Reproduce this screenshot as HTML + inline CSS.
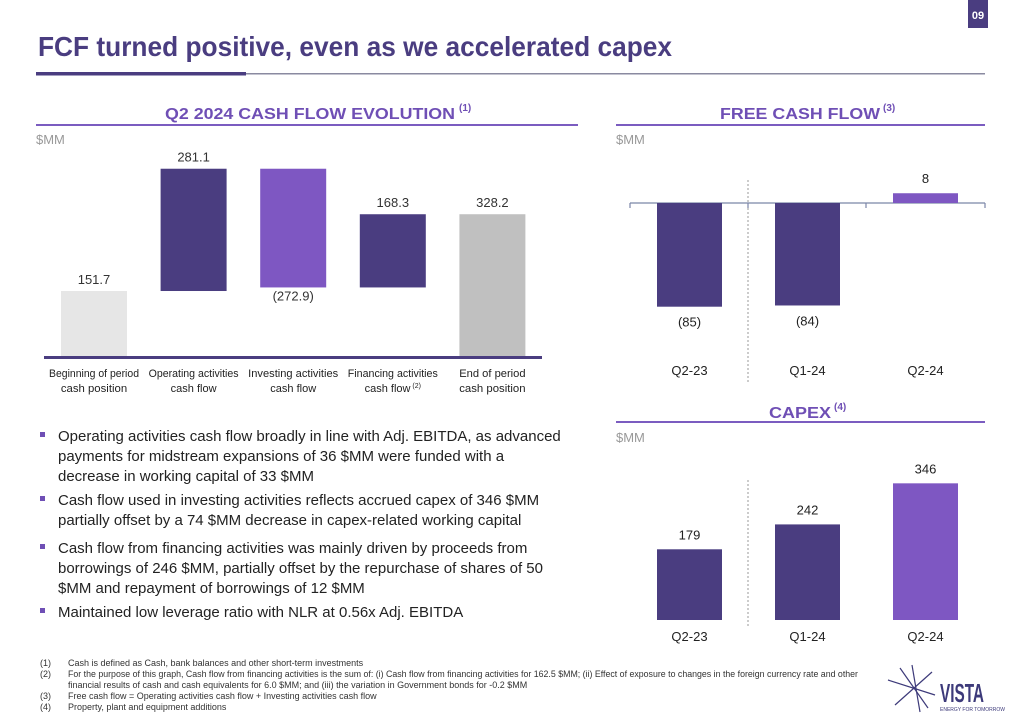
<!DOCTYPE html>
<html><head><meta charset="utf-8"><style>
html,body{margin:0;padding:0;background:#fff;}
svg{display:block;font-family:"Liberation Sans",sans-serif;}
</style></head><body>
<svg id="s" width="1020" height="716" viewBox="0 0 1020 716" xmlns="http://www.w3.org/2000/svg">
<rect x="968" y="0" width="20" height="28" fill="#4a3d80"/>
<text x="978" y="19" font-size="11" font-weight="bold" fill="#fff" text-anchor="middle">09</text>
<text x="38" y="56" font-size="28" font-weight="bold" fill="#4a3d80" textLength="634" lengthAdjust="spacingAndGlyphs">FCF turned positive, even as we accelerated capex</text>
<rect x="246" y="73" width="739" height="1.5" fill="#8a8aa0"/>
<rect x="36" y="72" width="210" height="3.5" fill="#4a3d80"/>

<text x="310" y="119" font-size="16" font-weight="bold" fill="#6f4fb5" text-anchor="middle" textLength="290" lengthAdjust="spacingAndGlyphs">Q2 2024 CASH FLOW EVOLUTION</text>
<text x="459" y="111" font-size="10" font-weight="bold" fill="#6f4fb5">(1)</text>
<rect x="36" y="124" width="542" height="2" fill="#7b5cc0"/>
<text x="36" y="144" font-size="13" fill="#999">$MM</text>

<text x="800" y="119" font-size="16" font-weight="bold" fill="#6f4fb5" text-anchor="middle" textLength="160" lengthAdjust="spacingAndGlyphs">FREE CASH FLOW</text>
<text x="883" y="111" font-size="10" font-weight="bold" fill="#6f4fb5">(3)</text>
<rect x="616" y="124" width="369" height="2" fill="#7b5cc0"/>
<text x="616" y="144" font-size="13" fill="#999">$MM</text>

<text x="800" y="418" font-size="16" font-weight="bold" fill="#6f4fb5" text-anchor="middle" textLength="62" lengthAdjust="spacingAndGlyphs">CAPEX</text>
<text x="834" y="410" font-size="10" font-weight="bold" fill="#6f4fb5">(4)</text>
<rect x="616" y="421" width="369" height="2" fill="#7b5cc0"/>
<text x="616" y="442" font-size="13" fill="#999">$MM</text>

<g id="wf"></g>
<g id="fcf"></g>
<g id="cap"></g>

<g font-size="15" fill="#222">
<rect x="40" y="432" width="5" height="5" fill="#6f4fb5"/>
<text x="58" y="441"><tspan x="58">Operating activities cash flow broadly in line with Adj. EBITDA, as advanced</tspan><tspan x="58" dy="20">payments for midstream expansions of 36 $MM were funded with a</tspan><tspan x="58" dy="20">decrease in working capital of 33 $MM</tspan></text>
<rect x="40" y="496" width="5" height="5" fill="#6f4fb5"/>
<text x="58" y="505"><tspan x="58">Cash flow used in investing activities reflects accrued capex of 346 $MM</tspan><tspan x="58" dy="20">partially offset by a 74 $MM decrease in capex-related working capital</tspan></text>
<rect x="40" y="544" width="5" height="5" fill="#6f4fb5"/>
<text x="58" y="553"><tspan x="58">Cash flow from financing activities was mainly driven by proceeds from</tspan><tspan x="58" dy="20">borrowings of 246 $MM, partially offset by the repurchase of shares of 50</tspan><tspan x="58" dy="20">$MM and repayment of borrowings of 12 $MM</tspan></text>
<rect x="40" y="608" width="5" height="5" fill="#6f4fb5"/>
<text x="58" y="617">Maintained low leverage ratio with NLR at 0.56x Adj. EBITDA</text>
</g>

<g font-size="9" fill="#333">
<text x="40" y="666">(1)</text><text x="68" y="666">Cash is defined as Cash, bank balances and other short-term investments</text>
<text x="40" y="677">(2)</text><text x="68" y="677" textLength="790" lengthAdjust="spacingAndGlyphs">For the purpose of this graph, Cash flow from financing activities is the sum of: (i) Cash flow from financing activities for 162.5 $MM; (ii) Effect of exposure to changes in the foreign currency rate and other</text>
<text x="68" y="688">financial results of cash and cash equivalents for 6.0 $MM; and (iii) the variation in Government bonds for -0.2 $MM</text>
<text x="40" y="699">(3)</text><text x="68" y="699">Free cash flow = Operating activities cash flow + Investing activities cash flow</text>
<text x="40" y="710">(4)</text><text x="68" y="710">Property, plant and equipment additions</text>
</g>

<g stroke="#3d3a7a" stroke-width="1.2">
<line x1="912" y1="665" x2="920" y2="712"/><line x1="888" y1="680" x2="935" y2="695"/>
<line x1="895" y1="705" x2="932" y2="672"/><line x1="900" y1="668" x2="928" y2="708"/>
<text x="940" y="702" font-size="26" font-weight="bold" fill="#3d3a7a" stroke="none" textLength="44" lengthAdjust="spacingAndGlyphs">VISTA</text>
<text x="940" y="711" font-size="5" fill="#3d3a7a" stroke="none">ENERGY FOR TOMORROW</text>
</g>
</svg>
<script>
const NS='http://www.w3.org/2000/svg';
// Waterfall data
const wfCats=[['Beginning of period','cash position'],['Operating activities','cash flow'],['Investing activities','cash flow'],['Financing activities','cash flow'],['End of period','cash position']];
const wfValues=[151.7,281.1,-272.9,168.3,328.2];
const wfTypes=['total','delta','delta','delta','total'];
const wfLabels=['151.7','281.1','(272.9)','168.3','328.2'];
const wfColors=['#e6e6e6','#4a3d80','#7e57c2','#4a3d80','#c0c0c0'];
// FCF data
const fcfCats=['Q2-23','Q1-24','Q2-24'];
const fcfValues=[-85,-84,8];
const fcfLabels=['(85)','(84)','8'];
// Capex data
const capCats=['Q2-23','Q1-24','Q2-24'];
const capValues=[179,242,346];
const capLabels=['179','242','346'];

function mk(tag,attrs,parent,txt){const e=document.createElementNS(NS,tag);for(const k in attrs)e.setAttribute(k,attrs[k]);if(txt!==undefined)e.textContent=txt;parent.appendChild(e);return e;}

// Waterfall
(function(){
 const g=document.getElementById('wf');
 const y0=357,k=0.435,x0=94,step=99.6,bw=66;
 const y=v=>y0-v*k;
 let run=0;
 wfValues.forEach((v,i)=>{
  let a,b;
  if(wfTypes[i]==='total'){a=0;b=v;run=v;}else{a=run;b=run+v;run=b;}
  const top=y(Math.max(a,b)),bot=y(Math.min(a,b));
  const cx=x0+i*step;
  const r=mk('rect',{x:cx-bw/2,y:top,width:bw,height:bot-top,fill:wfColors[i]},g);
  
  
  const ly=v<0?bot+13:top-7;
  const t=mk('text',{x:cx,y:ly,'font-size':13,fill:'#333','text-anchor':'middle'},g,wfLabels[i]);
  
  
  const c=mk('text',{x:cx,y:377,'font-size':11,fill:'#222','text-anchor':'middle'},g);
  
  
  const l1=wfCats[i][0],l2=wfCats[i][1];
  mk('tspan',{x:cx,textLength:Math.min(l1.length*5.1,90),lengthAdjust:'spacingAndGlyphs'},c,l1);
  mk('tspan',{x:cx,dy:15,textLength:l2.length*5.1,lengthAdjust:'spacingAndGlyphs'},c,l2);
  if(i===3){mk('tspan',{dy:-4,'font-size':7},c,' (2)');}
 });
 const ax=mk('rect',{x:44,y:y0-1,width:498,height:3,fill:'#4a3d80'},g);
 
 
})();

function simple(id,cats,vals,labels,y0,k,axis,divTop,divBot,catY,colors){
 const g=document.getElementById(id);
 const x0=689.5,step=118,bw=65;
 const y=v=>y0-v*k;
 mk('line',{x1:748,y1:divTop,x2:748,y2:divBot,stroke:'#999','stroke-width':1,'stroke-dasharray':'2,2'},g);
 if(axis){
  const a=mk('line',{x1:630,y1:y0,x2:985,y2:y0,stroke:'#7a86a8','stroke-width':1.2},g);
  
  
  [630,748,866,985].forEach(x=>mk('line',{x1:x,y1:y0,x2:x,y2:y0+5,stroke:'#7a86a8','stroke-width':1.2},g));
 }
 vals.forEach((v,i)=>{
  const cx=x0+i*step;
  const top=Math.min(y(v),y0),h=Math.abs(y(v)-y0);
  const r=mk('rect',{x:cx-bw/2,y:top,width:bw,height:h,fill:colors[i]},g);
  
  
  const ly=v<0?y(v)+20:y(v)-10;
  const t=mk('text',{x:cx,y:ly,'font-size':13,fill:'#222','text-anchor':'middle'},g,labels[i]);
  
  
  const c=mk('text',{x:cx,y:catY,'font-size':13,fill:'#222','text-anchor':'middle'},g,cats[i]);
  
  
 });
}
simple('fcf',fcfCats,fcfValues,fcfLabels,203,1.22,true,180,382,375,['#4a3d80','#4a3d80','#7e57c2']);
simple('cap',capCats,capValues,capLabels,620,0.395,false,480,628,641,['#4a3d80','#4a3d80','#7e57c2']);
</script>
</body></html>
